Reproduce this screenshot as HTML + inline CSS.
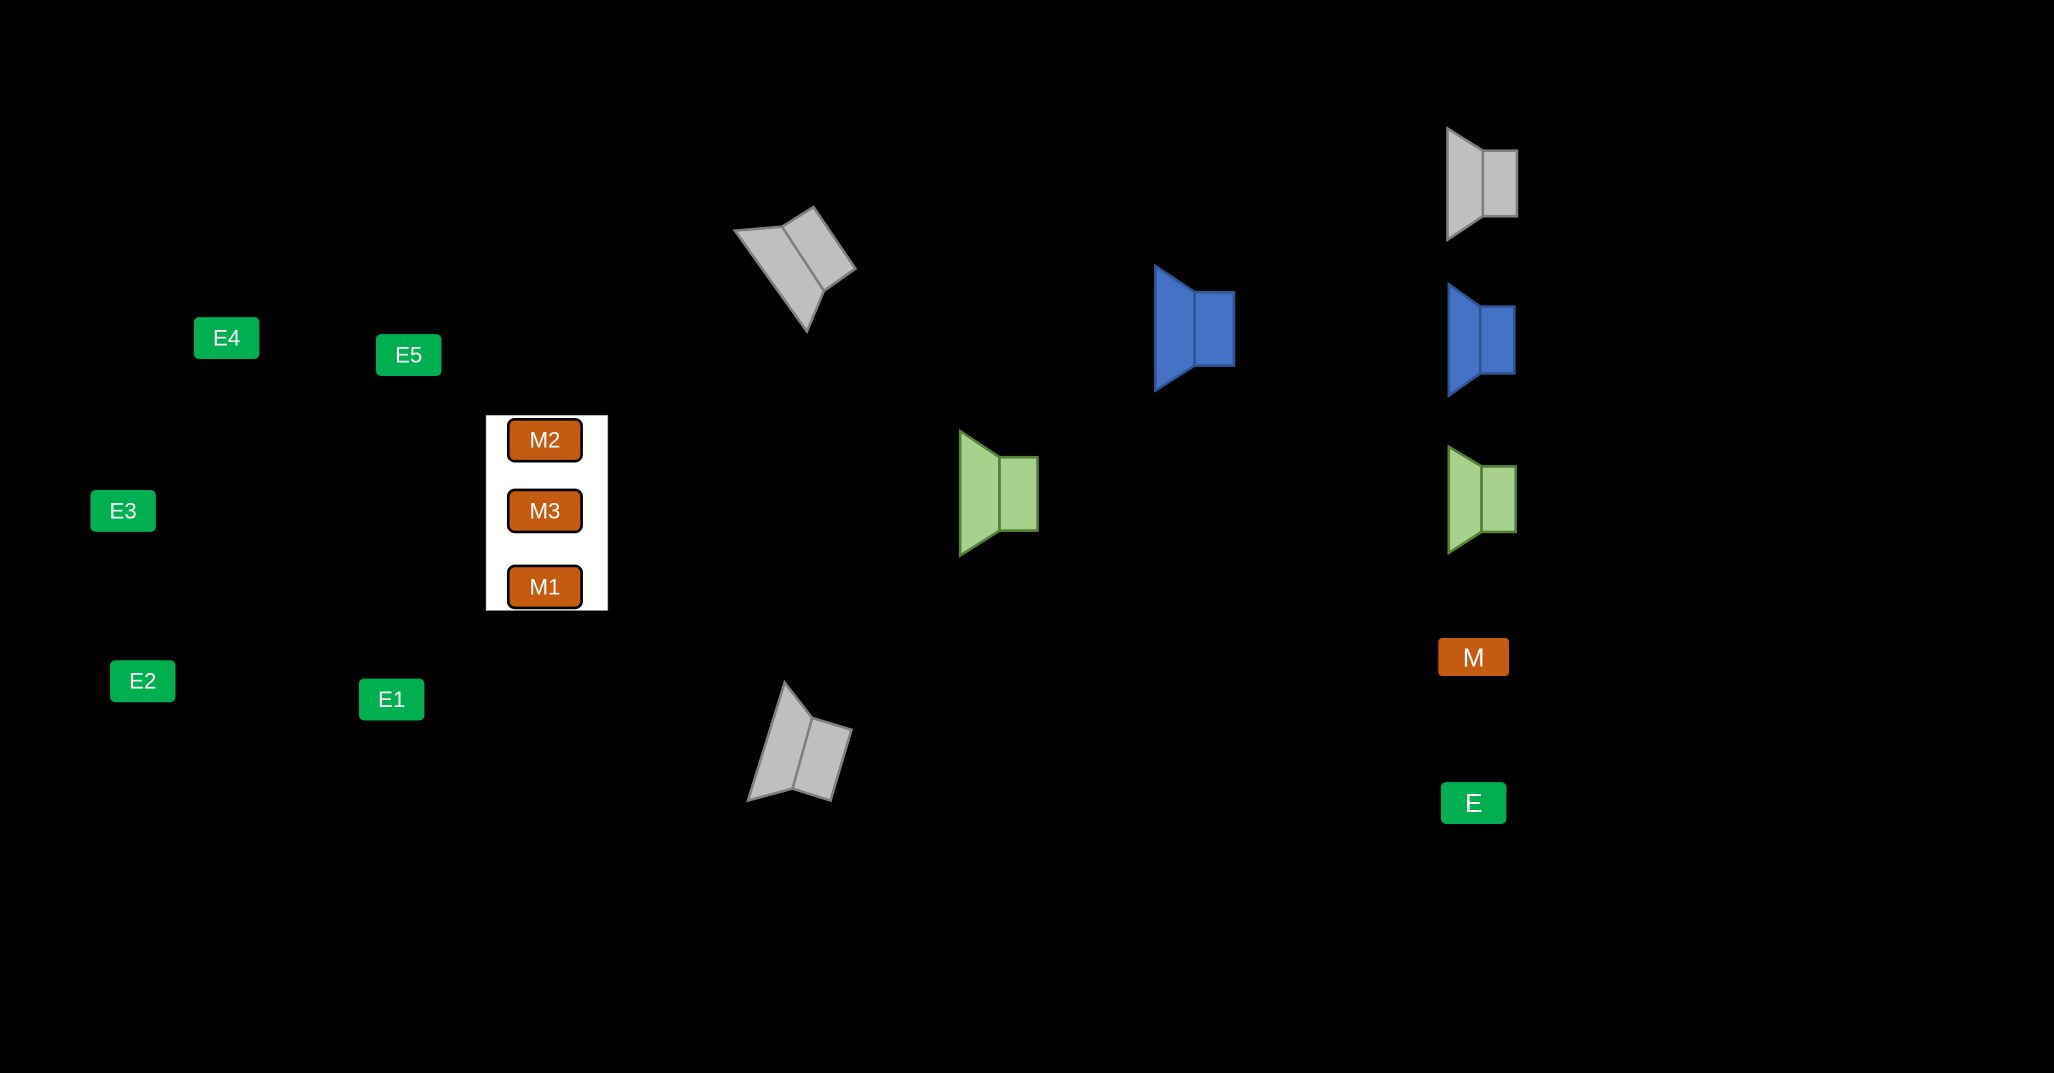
<!DOCTYPE html>
<html><head><meta charset="utf-8"><style>
html,body{margin:0;padding:0;background:#000;}
svg{display:block;}
text{font-family:"Liberation Sans",sans-serif;fill:#fff;text-anchor:middle;dominant-baseline:central;}
</style></head><body>
<svg width="2054" height="1073" viewBox="0 0 1568 819" xmlns="http://www.w3.org/2000/svg">
<rect width="1568" height="819" fill="#000"/>
<!-- E nodes -->
<g fill="#00b050">
<rect x="148" y="242" width="50" height="32" rx="4"/>
<rect x="287" y="255" width="50" height="32" rx="4"/>
<rect x="69" y="374" width="50" height="32" rx="4"/>
<rect x="84" y="504" width="50" height="32" rx="4"/>
<rect x="274" y="518" width="50" height="32" rx="4"/>
<rect x="1100" y="597" width="50" height="32" rx="4"/>
</g>
<g font-size="17">
<text x="173" y="258">E4</text>
<text x="312" y="271">E5</text>
<text x="94" y="390">E3</text>
<text x="109" y="520">E2</text>
<text x="299" y="534">E1</text>
</g>
<text x="1125" y="613" font-size="20">E</text>
<!-- M box -->
<rect x="371" y="317" width="93" height="149" fill="#fff" stroke="#888" stroke-width="0.5"/>
<g fill="#c55a11" stroke="#000" stroke-width="2">
<rect x="388" y="320" width="56" height="32" rx="5"/>
<rect x="388" y="374" width="56" height="32" rx="5"/>
<rect x="388" y="432" width="56" height="32" rx="5"/>
</g>
<g font-size="17">
<text x="416" y="336">M2</text>
<text x="416" y="390">M3</text>
<text x="416" y="448">M1</text>
</g>
<rect x="1098" y="487" width="54" height="29" rx="3" fill="#c55a11"/>
<text x="1125" y="502" font-size="20">M</text>
<!-- gray rotated speakers -->
<g fill="#bfbfbf" stroke="#7f7f7f" stroke-width="2" stroke-linejoin="miter">
<polygon points="561,176 597,173 621,158 653,205 629,222 616,253"/>
<line x1="597" y1="173" x2="629" y2="222"/>
<polygon points="599,521 620,548 650,557 634,611 605,602 571,611"/>
<line x1="620" y1="548" x2="605" y2="602"/>
</g>
<!-- big blue -->
<g fill="#4472c4" stroke="#2f5597" stroke-width="2">
<polygon points="882,203 912,223 912,279 882,298"/>
<rect x="912" y="223" width="30" height="56"/>
</g>
<!-- big green -->
<g fill="#a9d18e" stroke="#548235" stroke-width="2">
<polygon points="733,329 763,349 763,405 733,424"/>
<rect x="763" y="349" width="29" height="56"/>
</g>
<!-- legend speakers -->
<g fill="#bfbfbf" stroke="#7f7f7f" stroke-width="2">
<polygon points="1105,98 1132,115 1132,165 1105,183"/>
<rect x="1132" y="115" width="26" height="50"/>
</g>
<g fill="#4472c4" stroke="#2f5597" stroke-width="2">
<polygon points="1106,217 1130,234 1130,285 1106,302"/>
<rect x="1130" y="234" width="26" height="51"/>
</g>
<g fill="#a9d18e" stroke="#548235" stroke-width="2">
<polygon points="1106,341 1131,356 1131,406 1106,422"/>
<rect x="1131" y="356" width="26" height="50"/>
</g>
</svg>
</body></html>
